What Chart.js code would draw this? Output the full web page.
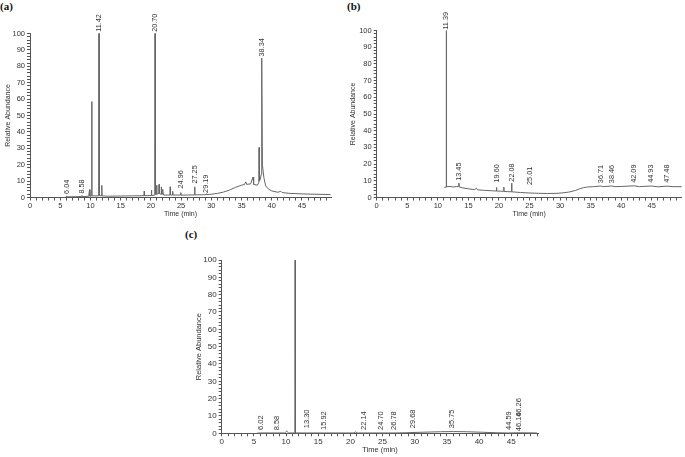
<!DOCTYPE html>
<html><head><meta charset="utf-8">
<script src="https://cdn.jsdelivr.net/npm/chart.js@4"></script>
<style>
html,body{margin:0;padding:0;background:#fff}
body{width:685px;height:457px;position:relative;overflow:hidden}
.panel{position:absolute}
.tag{position:absolute;font-family:'Liberation Serif','Times New Roman',serif;font-weight:bold;font-size:11px;color:#111;line-height:1}
</style></head><body>
<div class="tag" style="left:0px;top:1px">(a)</div>
<div class="tag" style="left:347px;top:1px">(b)</div>
<div class="tag" style="left:185px;top:229px">(c)</div>
<div class="panel" style="left:0;top:0"><canvas id="ca" width="340" height="222"></canvas></div>
<div class="panel" style="left:340px;top:0"><canvas id="cb" width="345" height="222"></canvas></div>
<div class="panel" style="left:170px;top:222px"><canvas id="cc" width="380" height="235"></canvas></div>
<script>
// ---------- Panel (a) ----------
const timeA  = [5.9,6.0,6.04,6.08,7.5,8.5,8.58,8.63,9.7,9.85,9.92,10.19,10.22,10.25,11.39,11.42,11.45,11.84,11.88,11.92,13.0,15.0,17.0,18.86,18.9,18.94,20.06,20.1,20.14,20.67,20.70,20.73,20.92,20.96,21.0,21.32,21.36,21.4,21.68,21.72,21.76,21.88,21.92,22.0,22.1,23.16,23.2,23.24,23.56,23.6,23.64,24.92,24.96,25.0,26.0,27.21,27.25,27.29,29.15,29.19,29.23,30,31,32,33,34,35,35.5,35.7,35.85,36.5,36.9,37.0,37.6,37.86,37.9,37.96,38.1,38.25,38.34,38.45,38.7,39,39.5,40,41,41.5,41.7,43,45,47,49.7];
const abundA = [0.4,0.4,1.0,0.4,0.5,0.6,1.2,0.6,0.7,4.8,0.8,1.0,58.5,1.0,1.0,100,1.2,1.0,7.4,1.0,0.8,0.9,1.0,1.1,3.9,1.1,1.2,4.5,1.2,1.5,100,2.0,2.0,7.5,2.0,2.5,8.0,2.5,2.0,6.5,2.0,2.0,5.0,4.0,1.5,1.5,6.5,1.5,1.5,3.8,1.5,1.5,3.0,1.4,1.5,1.6,6.5,1.6,1.7,2.3,1.8,2.0,2.5,3.3,4.5,6.2,7.5,8.0,9.5,8.0,8.3,12.5,8.0,7.5,9.0,30.5,10.0,11,14,85,20,12,7,5,4,3.2,3.8,3.0,2.5,2.2,2.0,1.8];
const peakTimesA  = [6.04,8.58,11.42,20.70,24.96,27.25,29.19,38.34];
const labelLevelA = [2.2,2.4,101,101,5.5,8.5,2.8,86];

// ---------- Panel (b) ----------
const timeB  = [11.05,11.36,11.39,11.42,12.0,12.5,13.0,13.41,13.45,13.49,14.0,15.0,16.0,16.3,16.5,17.5,19.0,19.56,19.6,19.64,20.76,20.8,20.84,22.04,22.08,22.12,23.5,25.0,26.5,28.0,29.5,30.5,31.5,32.5,33.2,33.8,34.5,35.5,36.71,37,38.46,39,40,42.09,43,44.93,46,47.48,48.5,49.9];
const abundB = [6.0,6.2,100,6.5,6.6,6.3,6.5,6.6,8.6,6.3,5.8,5.2,4.7,5.6,4.6,4.3,4.0,3.9,6.0,3.9,3.7,6.2,3.6,3.4,8.6,3.4,3.0,2.7,2.5,2.4,2.5,2.8,3.3,4.2,5.2,5.9,6.3,6.5,6.9,6.5,6.9,6.5,6.6,7.0,6.5,6.9,6.4,6.8,6.5,6.5];
const peakTimesB  = [11.39,13.45,19.60,22.08,25.01,36.71,38.46,42.09,44.93,47.48];
const labelLevelB = [100.5,10.0,9.0,9.5,7.5,8.6,8.6,8.8,8.8,8.8];

// ---------- Panel (c) ----------
const timeC  = [5.5,6.02,9.8,10.1,10.4,11.39,11.42,11.45,13.3,15.92,20.5,20.8,21.1,22.14,26.78,28.5,31,34,36,38,40.5,42.8,44.59,46.2,49];
const abundC = [0.1,0.2,0.2,1.3,0.2,0.2,100,0.2,0.2,0.2,0.2,0.8,0.2,0.2,0.2,0.3,0.6,0.9,1.0,0.9,0.6,0.3,0.2,0.3,0.2];
const peakTimesC  = [6.02,8.58,13.30,15.92,22.14,24.70,26.78,29.68,35.75,44.59,46.16,46.26];
const labelLevelC = [1.9,1.7,2.9,1.9,1.9,1.9,1.9,2.9,2.9,1.9,1.2,9.5];

// ---------- axis ranges ----------
const xMaxA = 49.8, xMaxB = 49.9, xMaxC = 49.2;

Chart.defaults.font.family = "'Liberation Sans', Arial, sans-serif";

function labelPlugin(times, levels, size) {
  return {
    id: 'peakLabels',
    afterDatasetsDraw(chart) {
      const {ctx, scales} = chart;
      ctx.save();
      ctx.font = size + "px 'Liberation Sans', Arial, sans-serif";
      ctx.fillStyle = '#333';
      ctx.textAlign = 'left';
      ctx.textBaseline = 'middle';
      times.forEach((t, i) => {
        const px = scales.x.getPixelForValue(t);
        const py = scales.y.getPixelForValue(levels[i]);
        ctx.save();
        ctx.translate(px, py);
        ctx.rotate(-Math.PI / 2);
        ctx.fillText(t.toFixed(2), 0, 0);
        ctx.restore();
      });
      ctx.restore();
    }
  };
}

function makeChart(id, times, values, peaks, levels, xMax, g) {
  const pts = times.map((t, i) => ({x: t, y: values[i]}));
  return new Chart(document.getElementById(id), {
    type: 'line',
    data: {datasets: [{data: pts, borderColor: '#666', borderWidth: 1, pointRadius: 0, tension: 0, fill: false, clip: false}]},
    options: {
      responsive: false, animation: false, events: [],
      layout: {padding: {left: 0, top: g.top, right: g.right, bottom: 0}},
      plugins: {legend: {display: false}, tooltip: {enabled: false}},
      scales: {
        x: {
          type: 'linear', min: 0, max: xMax,
          ticks: {stepSize: 1, autoSkip: false, maxRotation: 0, includeBounds: false,
                  callback: v => (v % 5 === 0 ? String(v) : ''),
                  font: {size: g.tick}, color: '#333', padding: g.xpad},
          grid: {drawOnChartArea: false, drawTicks: true, tickLength: 3, color: '#555'},
          border: {color: '#555'},
          title: {display: g.xtitle, text: 'Time (min)', font: {size: g.title}, color: '#333', padding: {top: 0, bottom: g.xtb}},
          afterFit: s => { s.height = g.xh; }
        },
        y: {
          min: 0, max: 100,
          ticks: {stepSize: 2, autoSkip: false, includeBounds: false,
                  callback: v => (v % 10 === 0 ? String(v) : ''),
                  font: {size: g.tick}, color: '#333', padding: 2},
          grid: {drawOnChartArea: false, drawTicks: true, tickLength: 3, color: '#555'},
          border: {color: '#555'},
          title: {display: true, text: 'Relative Abundance', font: {size: g.title}, color: '#333', padding: {top: g.ytp, bottom: 0}},
          afterFit: s => { s.width = g.yw; }
        }
      }
    },
    plugins: [labelPlugin(peaks, levels, g.lab)]
  });
}

makeChart('ca', timeA, abundA, peakTimesA, labelLevelA, xMaxA,
  {top: 33.5, right: 9, yw: 30, xh: 24.5, tick: 7.5, title: 7, lab: 7.3, xpad: 1, xtb: 4, xtitle: true, ytp: 3.8});
makeChart('cb', timeB, abundB, peakTimesB, labelLevelB, xMaxB,
  {top: 30.5, right: 3.3, yw: 36.7, xh: 24.5, tick: 7.5, title: 7, lab: 7.3, xpad: 1, xtb: 4, xtitle: true, ytp: 9});
makeChart('cc', timeC, abundC, peakTimesC, labelLevelC, xMaxC,
  {top: 38, right: 11.7, yw: 51.7, xh: 23.7, tick: 8, title: 7.5, lab: 7.5, xpad: 1, xtb: 2.2, xtitle: true, ytp: 24.2});
</script>
</body></html>
